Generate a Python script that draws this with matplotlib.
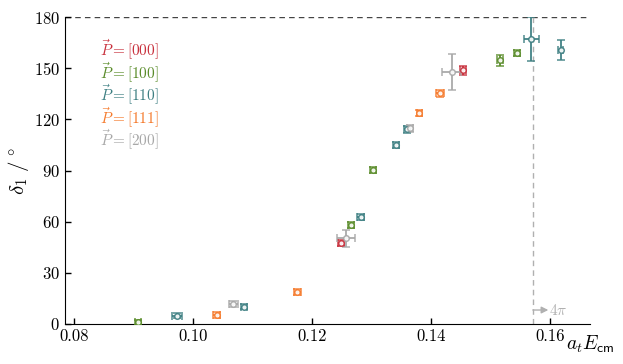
import numpy as N
import matplotlib
matplotlib.use('Agg')
import matplotlib.pyplot as plt

plt.rcParams['font.family'] = 'serif'
plt.rcParams['font.serif'] = ['cmr10', 'DejaVu Serif']
plt.rcParams['mathtext.fontset'] = 'cm'
plt.rcParams['axes.formatter.use_mathtext'] = True

# phase shift data, one set per momentum frame
labels = ['000', '100', '110', '111', '200']
colors = ['#c8303c', '#5a8c2a', '#3d7f82', '#f57a2c', '#a8a8a8']

x_000 = [0.1248, 0.1453]
y_000 = [47.3, 148.9]
xe_000 = [0.0005, 0.0005]
ye_000 = [1.8, 2.7]

x_100 = [0.0908, 0.1265, 0.1303, 0.1516, 0.1545]
y_100 = [1.0, 58.0, 90.1, 154.6, 159.0]
xe_100 = [0.0005, 0.0005, 0.0005, 0.0005, 0.0005]
ye_100 = [1.5, 1.8, 1.8, 3.2, 1.8]

x_110 = [0.0973, 0.1086, 0.1282, 0.1341, 0.1359, 0.1568, 0.1618]
y_110 = [4.9, 10.2, 62.9, 105.0, 114.1, 167.1, 160.6]
xe_110 = [0.0009, 0.0005, 0.0006, 0.0005, 0.0005, 0.00126, 0.0004]
ye_110 = [1.5, 1.5, 1.8, 1.8, 1.8, 12.9, 6.0]

x_111 = [0.1040, 0.1175, 0.1380, 0.1415]
y_111 = [5.3, 18.6, 123.9, 135.2]
xe_111 = [0.0006, 0.0006, 0.0004, 0.0006]
ye_111 = [1.5, 1.8, 1.8, 1.8]

x_200 = [0.1068, 0.1257, 0.1364, 0.1435]
y_200 = [11.5, 50.2, 114.7, 147.7]
xe_200 = [0.0007, 0.0015, 0.0005, 0.0016]
ye_200 = [1.8, 4.9, 1.8, 10.5]

x_4pi = 0.1571  # threshold

sets = [(x_000, y_000, xe_000, ye_000),
        (x_100, y_100, xe_100, ye_100),
        (x_110, y_110, xe_110, ye_110),
        (x_111, y_111, xe_111, ye_111),
        (x_200, y_200, xe_200, ye_200)]

fig = plt.figure(figsize=(6.23, 3.64), dpi=100)
ax = fig.add_axes([0.1043, 0.1099, 0.8427, 0.8431])

# threshold lines
ax.axhline(180, color='#444444', ls=(0, (4, 3)), lw=1, zorder=1)
ax.plot([x_4pi, x_4pi], [0, 180], color='#b0b0b0', ls=(0, (4, 3)), lw=1, zorder=1)
ax.annotate('', xy=(x_4pi + 0.0026, 8.2), xytext=(x_4pi, 8.2),
            arrowprops=dict(arrowstyle='-|>', color='#b0b0b0', lw=1,
                            shrinkA=0, shrinkB=0, mutation_scale=10))
ax.text(x_4pi + 0.0027, 8.2, r'$4\pi$', color='#b0b0b0', fontsize=11,
        va='center', ha='left')

for i in range(len(sets)):
    x, y, xe, ye = sets[i]
    ax.errorbar(x, y, xerr=xe, yerr=ye, fmt='o', ms=4, mfc='white',
                mec=colors[i], mew=1.1, ecolor=colors[i], elinewidth=1.4,
                capsize=3, capthick=1.4, alpha=0.9, zorder=3)
    ax.text(0.0843, 160.6 - i * 13.2, r'$\vec{P}=[%s]$' % labels[i],
            color=colors[i], fontsize=11, va='center', ha='left')

ax.set_xlim(0.0785, 0.1667)
ax.set_ylim(0, 180)
ax.set_xticks([0.08, 0.10, 0.12, 0.14, 0.16])
ax.set_xticklabels(['0.08', '0.10', '0.12', '0.14', '0.16'])
ax.set_yticks([0, 30, 60, 90, 120, 150, 180])
ax.tick_params(direction='in', length=4, labelsize=12, width=1)
ax.spines['top'].set_visible(False)
ax.spines['right'].set_visible(False)

ax.set_ylabel(r'$\delta_1\ /^\circ$', fontsize=15, labelpad=2)
ax.text(1.0, -0.065, r'$a_t E_{\mathsf{cm}}$', transform=ax.transAxes,
        fontsize=14, ha='center', va='center')

plt.savefig('out.png', dpi=100)
